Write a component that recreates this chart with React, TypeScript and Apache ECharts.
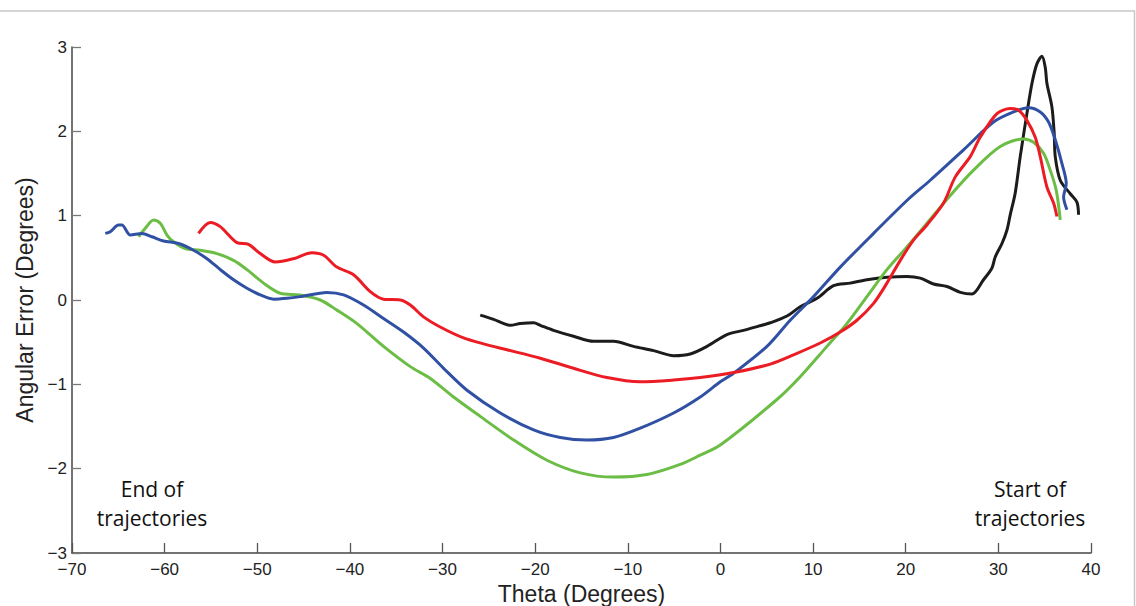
import React, { useEffect, useRef } from "react";
import * as echarts from "echarts";

const xTicks = { min: -70, max: 40, interval: 10 };
const yTicks = { min: -3, max: 3, interval: 1 };

const blueSeries: [number, number][] = [
  [-66.41, 0.79], [-65.87, 0.81], [-64.97, 0.89], [-64.61, 0.89], [-63.71, 0.77],
  [-62.45, 0.79], [-61.37, 0.75], [-60.12, 0.7], [-58.5, 0.67], [-56.88, 0.59],
  [-55.43, 0.49], [-53.99, 0.36], [-52.56, 0.24], [-51.11, 0.14], [-49.68, 0.06],
  [-48.24, 0.01], [-46.79, 0.02], [-45.36, 0.04], [-42.48, 0.09], [-40.68, 0.06],
  [-38.53, -0.06], [-36.37, -0.22], [-34.21, -0.38], [-32.05, -0.57], [-29.89, -0.81],
  [-27.36, -1.07], [-23.77, -1.34], [-20.17, -1.54], [-17.29, -1.63], [-14.41, -1.66],
  [-11.54, -1.63], [-8.66, -1.52], [-5.06, -1.34], [-2.18, -1.15], [-0.02, -0.97],
  [1.41, -0.87], [5.02, -0.55], [7.53, -0.24], [10.05, 0.04], [12.93, 0.39],
  [16.53, 0.79], [20.13, 1.18], [22.65, 1.42], [26.24, 1.78], [29.48, 2.11],
  [31.64, 2.23], [33.26, 2.28], [34.52, 2.23], [35.42, 2.11], [36.14, 1.9],
  [36.86, 1.62], [37.33, 1.38], [37.04, 1.22], [37.4, 1.07],
];

const greenSeries: [number, number][] = [
  [-62.81, 0.75], [-62.09, 0.85], [-61.19, 0.95], [-60.47, 0.91], [-59.75, 0.77],
  [-59.04, 0.69], [-57.77, 0.61], [-56.16, 0.59], [-54.35, 0.55], [-52.56, 0.47],
  [-51.11, 0.36], [-49.32, 0.2], [-47.52, 0.08], [-45.36, 0.06], [-43.2, 0.0],
  [-41.4, -0.12], [-39.24, -0.28], [-36.37, -0.55], [-33.48, -0.79], [-31.32, -0.93],
  [-28.81, -1.15], [-25.93, -1.38], [-22.33, -1.66], [-18.73, -1.9], [-15.13, -2.05],
  [-11.54, -2.1], [-7.93, -2.07], [-4.34, -1.95], [-2.18, -1.84], [-0.02, -1.72],
  [6.1, -1.18], [8.61, -0.91], [11.5, -0.55], [13.65, -0.28], [15.81, 0.04],
  [17.97, 0.36], [20.13, 0.63], [22.29, 0.91], [24.81, 1.24], [27.32, 1.54],
  [30.2, 1.82], [32.72, 1.91], [33.8, 1.87], [34.88, 1.74], [35.6, 1.54],
  [36.25, 1.3], [36.68, 0.95],
];

const redSeries: [number, number][] = [
  [-56.34, 0.79], [-55.08, 0.92], [-54.0, 0.87], [-52.19, 0.68], [-50.94, 0.66],
  [-49.68, 0.55], [-48.06, 0.45], [-46.08, 0.49], [-44.1, 0.56], [-42.84, 0.53],
  [-41.4, 0.39], [-39.61, 0.3], [-37.8, 0.1], [-36.37, 0.01], [-34.56, 0.0],
  [-33.48, -0.06], [-32.05, -0.2], [-30.25, -0.32], [-27.73, -0.45], [-25.57, -0.52],
  [-23.05, -0.59], [-19.45, -0.69], [-15.86, -0.81], [-12.25, -0.92], [-8.66, -0.97],
  [-5.06, -0.95], [-2.18, -0.92], [1.41, -0.86], [5.38, -0.76], [7.89, -0.65],
  [10.77, -0.51], [12.93, -0.38], [14.73, -0.24], [16.53, -0.04], [17.97, 0.2],
  [19.41, 0.47], [20.84, 0.71], [22.29, 0.89], [24.08, 1.15], [25.35, 1.46],
  [26.96, 1.7], [28.04, 1.93], [29.85, 2.21], [31.28, 2.27], [32.18, 2.25],
  [33.08, 2.13], [33.98, 1.93], [34.52, 1.7], [35.24, 1.34], [35.96, 1.15],
  [36.32, 0.99],
];

const blackSeries: [number, number][] = [
  [-25.93, -0.18], [-24.49, -0.23], [-22.69, -0.3], [-21.61, -0.28], [-20.17, -0.27],
  [-19.45, -0.3], [-18.02, -0.36], [-15.86, -0.43], [-13.7, -0.49], [-11.54, -0.49],
  [-9.38, -0.55], [-7.22, -0.6], [-5.06, -0.66], [-3.26, -0.64], [-1.46, -0.55],
  [0.7, -0.41], [2.49, -0.36], [4.11, -0.31], [5.38, -0.27], [7.18, -0.19],
  [8.61, -0.08], [10.42, 0.02], [12.21, 0.17], [14.01, 0.2], [15.81, 0.24],
  [17.97, 0.27], [20.13, 0.28], [21.57, 0.26], [23.0, 0.19], [24.45, 0.16],
  [25.89, 0.09], [27.15, 0.07], [28.4, 0.24], [29.31, 0.38], [29.66, 0.51],
  [30.39, 0.67], [30.93, 0.83], [31.28, 1.01], [31.82, 1.27], [32.36, 1.7],
  [33.08, 2.21], [33.63, 2.57], [34.16, 2.8], [34.7, 2.89], [35.06, 2.76],
  [35.24, 2.57], [35.78, 2.29], [36.03, 1.97], [36.14, 1.7], [36.68, 1.42],
  [37.76, 1.26], [38.48, 1.16], [38.66, 1.01],
];

const xAxisTitle = "Theta (Degrees)";
const yAxisTitle = "Angular Error (Degrees)";
const endLabel = "End of\ntrajectories";
const startLabel = "Start of\ntrajectories";

const fmt = (v: number) => (v < 0 ? "\u2212" + Math.abs(v) : String(v));

export default function App() {
  const ref = useRef<HTMLDivElement>(null);
  useEffect(() => {
    if (!ref.current) return;
    const chart = echarts.init(ref.current, undefined, { renderer: "svg" });
    const mk = (name: string, data: [number, number][], color: string) => ({
      name,
      type: "line",
      data,
      showSymbol: false,
      symbol: "none",
      smooth: 0.3,
      lineStyle: { color, width: 3 },
      itemStyle: { color },
      z: 3,
    });
    chart.setOption({
      animation: false,
      backgroundColor: "#ffffff",
      grid: {
        left: 72,
        right: 45,
        top: 47,
        bottom: 53,
        containLabel: false,
        outerBoundsMode: "none",
      },
      xAxis: {
        type: "value",
        min: xTicks.min,
        max: xTicks.max,
        interval: xTicks.interval,
        name: xAxisTitle,
        nameLocation: "middle",
        nameGap: 21,
        nameTextStyle: { fontFamily: "Liberation Sans", fontSize: 23, color: "#222" },
        axisLine: { onZero: false, lineStyle: { color: "#444", width: 1.5 } },
        axisTick: { inside: true, length: 10, lineStyle: { color: "#555", width: 1.3 } },
        axisLabel: {
          formatter: fmt,
          fontFamily: "Liberation Sans",
          fontSize: 17,
          color: "#222",
          margin: 8,
        },
        splitLine: { show: false },
      },
      yAxis: {
        type: "value",
        min: yTicks.min,
        max: yTicks.max,
        interval: yTicks.interval,
        name: yAxisTitle,
        nameLocation: "middle",
        nameRotate: 90,
        nameGap: 33,
        nameTextStyle: { fontFamily: "Liberation Sans", fontSize: 23, color: "#222" },
        axisLine: { onZero: false, lineStyle: { color: "#444", width: 1.5 } },
        axisTick: { inside: true, length: 9, lineStyle: { color: "#777", width: 1.3 } },
        axisLabel: {
          formatter: fmt,
          fontFamily: "Liberation Sans",
          fontSize: 17,
          color: "#222",
          margin: 5,
          verticalAlign: "middle",
        },
        splitLine: { show: false },
      },
      graphic: [
        {
          type: "rect",
          shape: { x: -2, y: 11, width: 1136.5, height: 620 },
          style: { fill: "none", stroke: "#c8c8c8", lineWidth: 1.5 },
          silent: true,
          z: 0,
        },
        {
          type: "text",
          x: 152,
          y: 503,
          style: {
            text: endLabel,
            fontFamily: "Open Sans",
            fontSize: 21,
            lineHeight: 29,
            fill: "#111",
            align: "center",
            verticalAlign: "middle",
          },
        },
        {
          type: "text",
          x: 1030,
          y: 503,
          style: {
            text: startLabel,
            fontFamily: "Open Sans",
            fontSize: 21,
            lineHeight: 29,
            fill: "#111",
            align: "center",
            verticalAlign: "middle",
          },
        },
      ],
      series: [
        mk("Black", blackSeries, "#1c1c1c"),
        mk("Green", greenSeries, "#6bbd45"),
        mk("Blue", blueSeries, "#3051a3"),
        mk("Red", redSeries, "#ec1c24"),
      ],
    });
    return () => chart.dispose();
  }, []);
  return (
    <div
      ref={ref}
      style={{ position: "absolute", left: 0, top: 0, width: 1136, height: 606 }}
    />
  );
}
